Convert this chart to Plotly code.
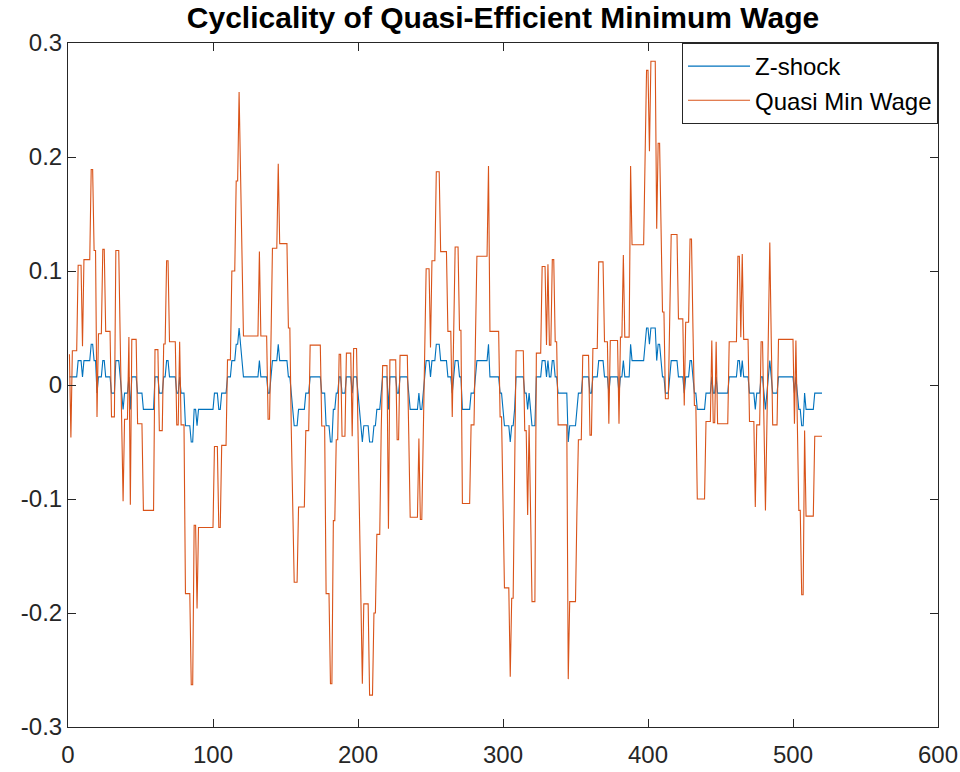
import numpy as np
import plotly.graph_objects as go

# Step-like series stored as runs: each run has a length (number of periods)
# and the value of each series over that run.
run_length = [
    1, 1, 4, 3, 1, 5, 2, 2, 1, 3, 2, 4, 3, 3, 1, 1, 1, 3, 1, 1,
    4, 4, 8, 3, 3, 2, 2, 5, 2, 1, 3, 4, 2, 2, 1, 11, 3, 2, 4, 3,
    3, 2, 1, 1, 1, 11, 1, 5, 2, 1, 4, 1, 6, 2, 1, 1, 3, 5, 3, 8,
    3, 3, 2, 2, 2, 2, 3, 4, 1, 3, 1, 1, 1, 1, 4, 3, 2, 3, 1, 4,
    1, 5, 2, 6, 1, 6, 1, 2, 1, 1, 3, 1, 3, 3, 5, 3, 1, 1, 3, 2,
    6, 3, 1, 8, 1, 7, 2, 1, 4, 1, 2, 1, 6, 2, 1, 1, 1, 3, 4, 3,
    1, 1, 2, 2, 2, 7, 1, 5, 1, 3, 5, 2, 4, 4, 3, 1, 6, 1, 2, 1,
    4, 1, 9, 1, 2, 1, 4, 1, 2, 1, 2, 3, 1, 5, 4, 1, 3, 2, 1, 2,
    6, 4, 1, 2, 1, 8, 6, 2, 1, 1, 4, 4, 1, 3, 2, 1, 1, 1, 1, 1,
    1, 4, 11, 1, 1, 1, 2, 2, 1, 6, 6,
]

zshock_level = [
    0.0071, 0.0071, 0.0071, 0.0214, 0.0071, 0.0214, 0.0357, 0.0214, -0.0071, 0.0071,
    0.0214, 0.0071, -0.0071, 0.0214, 0.0071, -0.0071, -0.0214, -0.0071, 0.0071, -0.0214,
    0.0071, -0.0071, -0.0214, 0.0071, -0.0071, 0.0071, 0.0214, 0.0071, -0.0071, 0.0071,
    -0.0071, -0.0357, -0.05, -0.0214, -0.0357, -0.0214, -0.0071, -0.0214, -0.0071, 0.0071,
    0.0214, 0.0357, 0.05, 0.0357, 0.0214, 0.0071, 0.0214, 0.0071, -0.0071, 0.0071,
    0.0214, 0.0357, 0.0214, 0.0071, -0.0071, -0.0214, -0.0357, -0.0214, -0.0071, 0.0071,
    -0.0071, -0.0357, -0.05, -0.0214, -0.0071, 0.0071, -0.0071, 0.0071, -0.0071, 0.0071,
    -0.0071, -0.0214, -0.0357, -0.05, -0.0357, -0.05, -0.0357, -0.0214, -0.0071, 0.0071,
    -0.0214, 0.0071, -0.0071, 0.0071, -0.0071, -0.0214, -0.0071, -0.0214, -0.0071, 0.0071,
    0.0214, 0.0071, 0.0214, 0.0357, 0.0214, 0.0071, -0.0071, 0.0071, 0.0214, 0.0071,
    -0.0214, -0.0071, 0.0071, 0.0214, 0.0357, 0.0071, -0.0071, -0.0214, -0.0357, -0.05,
    -0.0357, -0.0214, 0.0071, -0.0071, -0.0214, -0.0071, -0.0214, -0.0357, 0.0071, 0.0214,
    0.0071, 0.0214, 0.0071, 0.0214, 0.0071, -0.0071, -0.05, -0.0357, -0.0214, -0.0071,
    0.0071, -0.0071, 0.0071, 0.0214, 0.0071, -0.0071, 0.0071, -0.0071, 0.0071, 0.0214,
    0.0071, 0.0357, 0.0214, 0.0357, 0.05, 0.0357, 0.05, 0.0214, 0.0357, 0.0214,
    0.0071, -0.0071, 0.0071, 0.0214, 0.0071, -0.0071, 0.0071, 0.0214, 0.0071, -0.0071,
    -0.0214, -0.0071, 0.0071, -0.0071, 0.0071, -0.0071, 0.0071, 0.0214, 0.0071, 0.0214,
    0.0071, -0.0071, -0.0214, -0.0071, 0.0071, -0.0071, -0.0214, -0.0071, 0.0071, 0.0214,
    0.0071, -0.0071, 0.0071, -0.0071, 0.0071, -0.0071, -0.0214, -0.0357, -0.0071, -0.0214,
    -0.0071,
]

quasi_min_wage_level = [
    0.027, -0.046, 0.030, 0.105, 0.034, 0.110, 0.189, 0.118, -0.028, 0.045,
    0.119, 0.047, -0.028, 0.118, 0.040, -0.030, -0.102, -0.030, 0.042, -0.105,
    0.040, -0.034, -0.110, 0.031, -0.040, 0.036, 0.109, 0.038, -0.035, 0.038,
    -0.035, -0.183, -0.263, -0.123, -0.196, -0.125, -0.054, -0.125, -0.053, 0.022,
    0.100, 0.179, 0.257, 0.180, 0.110, 0.043, 0.117, 0.043, -0.030, 0.040,
    0.120, 0.194, 0.124, 0.050, -0.040, -0.110, -0.173, -0.107, -0.040, 0.035,
    -0.036, -0.183, -0.262, -0.119, -0.048, 0.027, -0.045, 0.028, -0.045, 0.032,
    -0.040, -0.110, -0.180, -0.262, -0.192, -0.272, -0.200, -0.131, -0.040, 0.017,
    -0.126, 0.022, -0.048, 0.026, -0.043, -0.116, -0.047, -0.118, -0.030, 0.035,
    0.102, 0.033, 0.109, 0.187, 0.117, 0.047, -0.028, 0.045, 0.121, 0.048,
    -0.104, -0.035, 0.040, 0.113, 0.192, 0.047, -0.028, -0.102, -0.178, -0.256,
    -0.187, -0.080, 0.030, -0.040, -0.114, -0.035, -0.110, -0.190, 0.028, 0.104,
    0.035, 0.106, 0.035, 0.110, 0.038, -0.035, -0.258, -0.190, -0.110, -0.048,
    0.026, -0.044, 0.032, 0.108, 0.038, -0.034, 0.039, -0.034, 0.042, 0.114,
    0.042, 0.192, 0.123, 0.200, 0.276, 0.205, 0.284, 0.137, 0.212, 0.137,
    0.064, -0.012, 0.060, 0.132, 0.058, -0.018, 0.055, 0.128, 0.050, -0.018,
    -0.100, -0.032, 0.039, -0.033, 0.038, -0.034, 0.038, 0.113, 0.042, 0.115,
    0.040, -0.032, -0.107, -0.035, 0.038, -0.035, -0.110, -0.035, 0.040, 0.125,
    0.040, -0.035, 0.040, -0.034, 0.039, -0.034, -0.110, -0.184, -0.040, -0.115,
    -0.045,
]

x_tick_values = [0, 100, 200, 300, 400, 500, 600]
y_tick_values = [-0.3, -0.2, -0.1, 0, 0.1, 0.2, 0.3]
y_tick_labels = ["-0.3", "-0.2", "-0.1", "0", "0.1", "0.2", "0.3"]

zshock = np.repeat(zshock_level, run_length)
quasi_min_wage = np.repeat(quasi_min_wage_level, run_length)
period = np.arange(1, len(zshock) + 1)

FONT = "Liberation Sans, Arial, Helvetica, sans-serif"
AXIS_COLOR = "#262626"

fig = go.Figure()
fig.add_trace(go.Scatter(
    x=period, y=zshock, mode="lines", name="Z-shock",
    line=dict(color="#0072BD", width=1.1),
))
fig.add_trace(go.Scatter(
    x=period, y=quasi_min_wage, mode="lines", name="Quasi Min Wage",
    line=dict(color="#D95319", width=1.1),
))

axis_common = dict(
    showline=True, linecolor=AXIS_COLOR, linewidth=1, mirror="ticks",
    ticks="inside", ticklen=8, tickwidth=1, tickcolor=AXIS_COLOR,
    showgrid=False, zeroline=False, automargin=False,
    tickfont=dict(family=FONT, size=24, color=AXIS_COLOR),
)

fig.update_layout(
    width=960, height=772,
    paper_bgcolor="white", plot_bgcolor="white",
    margin=dict(l=68, r=22, t=43, b=45, pad=0),
    title=dict(
        text="Cyclicality of Quasi-Efficient Minimum Wage",
        font=dict(family=FONT, size=30, color="black", weight="bold"),
        x=0.5, xref="paper", xanchor="center",
        y=1 - 17 / 772, yref="container", yanchor="middle",
    ),
    xaxis=dict(range=[0, 600], tickvals=x_tick_values, ticklabelstandoff=6,
               **axis_common),
    yaxis=dict(range=[-0.3, 0.3], tickvals=y_tick_values, ticktext=y_tick_labels,
               **axis_common),
    legend=dict(
        x=1, y=1, xanchor="right", yanchor="top",
        bgcolor="white", bordercolor=AXIS_COLOR, borderwidth=1,
        font=dict(family=FONT, size=24, color="black"),
        itemwidth=62, tracegroupgap=0,
    ),
    showlegend=True,
)

fig.write_html(
    "out.html",
    config={"displayModeBar": False},
    post_script="document.body.style.margin='0';document.body.style.padding='0';",
)
